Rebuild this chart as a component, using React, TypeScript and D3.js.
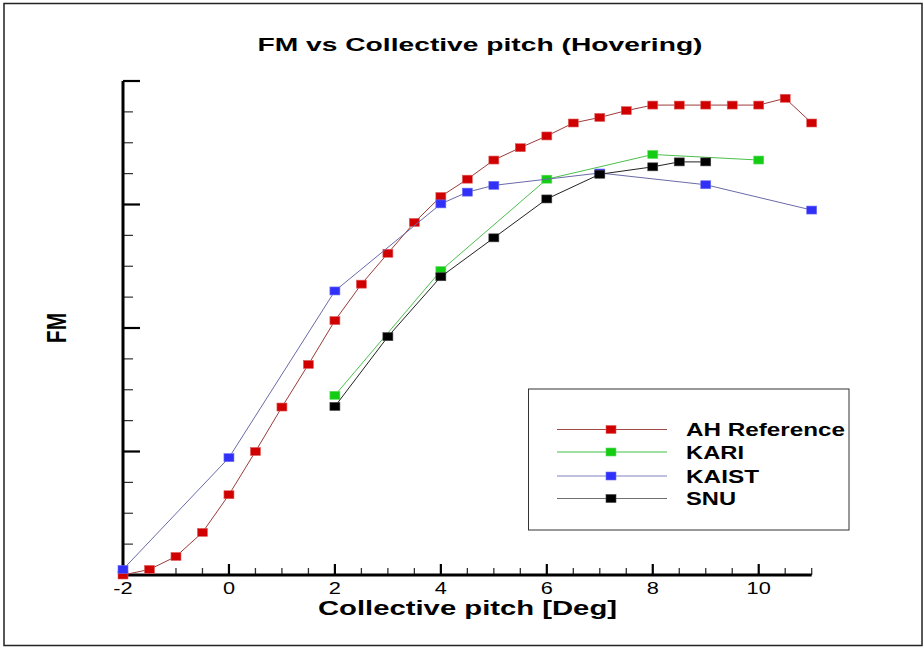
import React from "react";
import * as d3 from "d3";

const ahPitch = [-2, -1.5, -1, -0.5, 0, 0.5, 1, 1.5, 2, 2.5, 3, 3.5, 4, 4.5, 5, 5.5, 6, 6.5, 7, 7.5, 8, 8.5, 9, 9.5, 10, 10.5, 11];
const ahFM = [0.0, 0.009, 0.03, 0.069, 0.13, 0.2, 0.272, 0.341, 0.412, 0.471, 0.521, 0.571, 0.613, 0.641, 0.672, 0.692, 0.711, 0.732, 0.741, 0.752, 0.761, 0.761, 0.761, 0.761, 0.761, 0.772, 0.732];

const kariPitch = [2, 4, 6, 8, 10];
const kariFM = [0.291, 0.493, 0.641, 0.681, 0.672];

const kaistPitch = [-2, 0, 2, 4, 4.5, 5, 7, 9, 11];
const kaistFM = [0.009, 0.19, 0.46, 0.601, 0.62, 0.631, 0.651, 0.632, 0.591];

const snuPitch = [2, 3, 4, 5, 6, 7, 8, 8.5, 9];
const snuFM = [0.273, 0.386, 0.483, 0.546, 0.609, 0.649, 0.661, 0.669, 0.669];

const xTickLabels = [-2, 0, 2, 4, 6, 8, 10];
const seriesNames = ["AH Reference", "KARI", "KAIST", "SNU"];

const series = [
  { name: seriesNames[0], xs: ahPitch, ys: ahFM, line: "#9b3b3b", fill: "#d00000", stroke: "#e06060", legLine: "#a04848" },
  { name: seriesNames[1], xs: kariPitch, ys: kariFM, line: "#4cbf4c", fill: "#14cc14", stroke: "#60dd60", legLine: "#40c040" },
  { name: seriesNames[2], xs: kaistPitch, ys: kaistFM, line: "#6a6aa8", fill: "#3030f8", stroke: "#7070f0", legLine: "#8080c0" },
  { name: seriesNames[3], xs: snuPitch, ys: snuFM, line: "#222222", fill: "#000000", stroke: "#444444", legLine: "#707070" },
];

const legendWidths = [159, 58, 73, 50];

export default function App() {
  const x = d3.scaleLinear().domain([-2, 11]).range([123, 811.7]);
  const y = d3.scaleLinear().domain([0, 0.8]).range([575, 81]);
  const SX = 1.32;

  const xMinor = d3.range(-1.5, 11.01, 0.5).filter((v) => Math.abs(v % 2) > 1e-6);
  const yMajor = [0.2, 0.4, 0.6, 0.8];
  const yMinor = d3.range(0.05, 0.8, 0.05).filter((v) => Math.abs((v / 0.2) - Math.round(v / 0.2)) > 1e-6);

  const mw = 10;
  const mh = 8;

  return (
    <svg
      width={924}
      height={648}
      style={{ position: "absolute", left: 0, top: 0, background: "#fff" }}
      fontFamily="'Liberation Sans', Arial, sans-serif"
    >
      <rect x={0} y={0} width={924} height={648} fill="#fff" />
      <rect x={4} y={3.5} width={918} height={642} fill="none" stroke="#222" strokeWidth={1.5} />

      <text x={480} y={51} fontSize={18} fontWeight="bold" textAnchor="middle" textLength={445} lengthAdjust="spacingAndGlyphs">
        FM vs Collective pitch (Hovering)
      </text>

      {yMinor.map((v, i) => (
        <line key={"ym" + i} x1={x(-2)} x2={x(-2) + 10} y1={y(v)} y2={y(v)} stroke="#333" strokeWidth={1.2} />
      ))}
      {yMajor.map((v, i) => (
        <line key={"yM" + i} x1={x(-2)} x2={x(-2) + 17} y1={y(v)} y2={y(v)} stroke="#000" strokeWidth={2.2} />
      ))}
      {xMinor.map((v, i) => (
        <line key={"xm" + i} x1={x(v)} x2={x(v)} y1={y(0)} y2={y(0) - 7} stroke="#333" strokeWidth={1.3} />
      ))}
      {xTickLabels.map((v, i) => (
        <line key={"xM" + i} x1={x(v)} x2={x(v)} y1={y(0)} y2={y(0) - 11} stroke="#000" strokeWidth={2.2} />
      ))}
      <line x1={x(-2)} x2={x(-2)} y1={y(0) + 1.5} y2={y(0.8)} stroke="#000" strokeWidth={3} />
      <line x1={x(-2) - 1.5} x2={x(11)} y1={y(0)} y2={y(0)} stroke="#000" strokeWidth={3} />

      {xTickLabels.map((v, i) => (
        <text key={"xl" + i} transform={`translate(${x(v)},594) scale(${SX},1)`} fontSize={16.5} textAnchor="middle">
          {String(v)}
        </text>
      ))}

      <text x={467.5} y={615} fontSize={19.5} fontWeight="bold" textAnchor="middle" textLength={299} lengthAdjust="spacingAndGlyphs">
        Collective pitch [Deg]
      </text>
      <text transform={`translate(66,328) scale(1.3,1) rotate(-90)`} fontSize={21} fontWeight="bold" textAnchor="middle">
        FM
      </text>

      {series.map((s, si) => {
        const pts: [number, number][] = s.xs.map((v, i) => [x(v), y(s.ys[i])]);
        const path = d3.line()(pts) || "";
        return (
          <g key={"s" + si}>
            <path d={path} fill="none" stroke={s.line} strokeWidth={1} />
            {pts.map((p, i) => (
              <rect key={i} x={p[0] - mw / 2} y={p[1] - mh / 2} width={mw} height={mh} fill={s.fill} stroke={s.stroke} strokeWidth={0.6} />
            ))}
          </g>
        );
      })}

      <rect x={528.5} y={389} width={320.5} height={141} fill="#fff" stroke="#333" strokeWidth={1} />
      {series.map((s, i) => {
        const ly = [429.5, 452, 476, 498.5][i];
        return (
          <g key={"lg" + i}>
            <line x1={557} x2={667} y1={ly} y2={ly} stroke={s.legLine} strokeWidth={1} />
            <rect x={611 - mw / 2} y={ly - mh / 2} width={mw} height={mh} fill={s.fill} stroke={s.stroke} strokeWidth={0.6} />
            <text x={686} y={ly + 6.5} fontSize={17.5} fontWeight="bold" textLength={legendWidths[i]} lengthAdjust="spacingAndGlyphs">
              {s.name}
            </text>
          </g>
        );
      })}
    </svg>
  );
}
